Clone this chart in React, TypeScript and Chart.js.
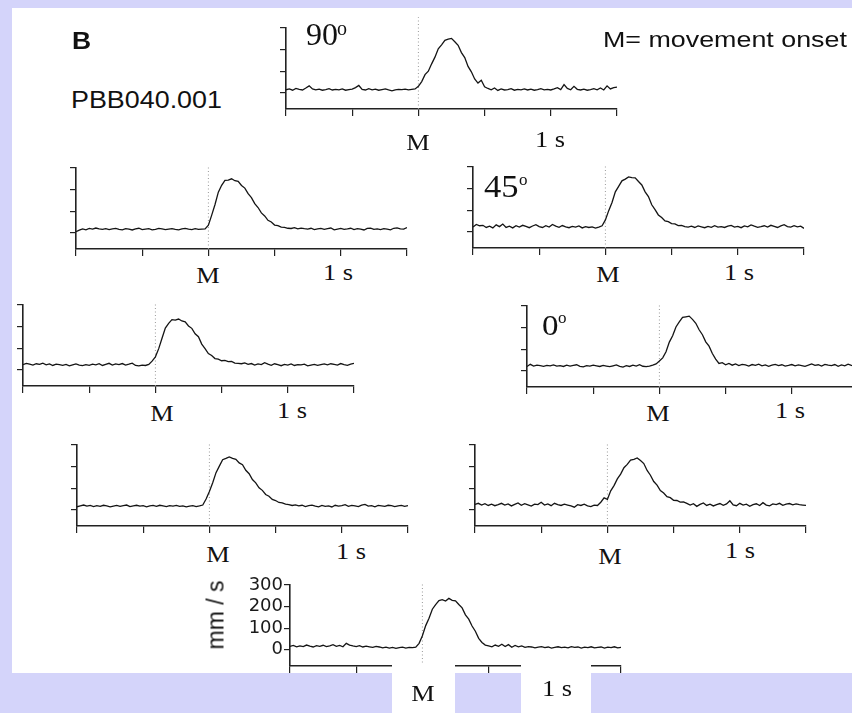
import React, { useEffect, useRef } from "react";
import { Chart, registerables } from "chart.js";

Chart.register(...registerables);

// ---------- data ----------
const T_START = -1.0; // s, relative to movement onset M
const T_STEP = 0.025; // s between samples
const X_MIN = -1.0;
const X_MAX = 1.5;
const X_TICKS = [-1, -0.5, 0, 0.5, 1, 1.5];
const Y_MIN = -75;
const Y_MAX = 300;
const Y_TICKS = [0, 100, 200, 300];
const Y_TICK_LABELS = ["0", "100", "200", "300"];
const Y_TITLE = "mm / s";

// hand velocity (mm/s) for each target direction
const V90 = [
  14, 18, 12, 20, 16, 13, 22, 32, 18, 14,
  17, 12, 15, 19, 13, 16, 14, 18, 12, 15,
  17, 24, 34, 16, 13, 19, 14, 17, 12, 15,
  18, 13, 9, 14, 16, 15, 17, 14, 16, 18,
  30, 52, 84, 100, 134, 165, 204, 222, 243, 248,
  252, 236, 220, 186, 163, 122, 97, 64, 45, 58,
  28, 20, 14, 22, 11, 18, 13, 15, 19, 12,
  16, 14, 18, 13, 17, 12, 15, 19, 14, 16,
  13, 18, 24, 15, 38, 20, 14, 30, 16, 13,
  17, 12, 15, 19, 14, 22, 13, 32, 18, 24,
  26,
];
const V135 = [
  5, 12, 18, 14, 20, 17, 22, 18, 16, 19,
  15, 18, 20, 16, 14, 19, 17, 13, 18, 21,
  15, 17, 19, 14, 16, 20, 18, 15, 17, 19,
  16, 14, 18, 20, 17, 15, 19, 16, 17, 18,
  35, 82, 131, 188, 220, 243, 244, 250, 241, 238,
  219, 207, 181, 163, 135, 117, 92, 78, 58, 50,
  36, 33, 26, 25, 21, 20, 24, 18, 22, 19,
  17, 21, 15, 18, 20, 16, 19, 22, 14, 17,
  20, 16, 18, 21, 15, 19, 17, 13, 20, 22,
  16, 18, 15, 19, 17, 14, 21, 23, 18, 17,
  24,
];
const V45 = [
  22, 34, 28, 30, 20, 26, 18, 32, 24, 36,
  20, 26, 18, 28, 22, 30, 25, 19, 27, 33,
  24, 20, 28, 22, 34, 26, 21, 29, 23, 19,
  25, 22, 27, 18, 24, 20, 23, 17, 22, 28,
  55, 98, 136, 185, 210, 236, 244, 254, 251, 250,
  233, 217, 185, 163, 125, 103, 78, 66, 50, 47,
  38, 37, 29, 30, 24, 22, 26, 20, 27, 23,
  19, 25, 21, 28, 22, 24, 20, 26, 30, 22,
  25, 19, 27, 23, 32, 26, 21, 24, 28, 22,
  30, 25, 20, 27, 33, 24, 22, 28, 23, 26,
  16,
];
const V180 = [
  24, 30, 26, 22, 28, 25, 31, 23, 27, 20,
  26, 24, 21, 25, 18, 23, 27, 22, 19, 24,
  21, 26, 23, 28, 20, 25, 30, 22, 27, 24,
  29, 22, 26, 31, 20, 18, 22, 20, 25, 40,
  60, 98, 146, 193, 215, 232, 230, 235, 226, 222,
  203, 192, 167, 153, 119, 98, 75, 66, 52, 49,
  42, 44, 38, 39, 31, 30, 28, 32, 25, 29,
  22, 27, 24, 33, 26, 21, 28, 24, 19, 25,
  22, 27, 20, 24, 23, 26, 18, 22, 25, 21,
  24, 27, 23, 28, 25, 22, 29, 24, 21, 26,
  30,
];
const V0 = [
  20, 30, 22, 26, 24, 21, 25, 23, 27, 22,
  24, 20, 26, 22, 25, 28, 21, 18, 24, 22,
  26, 23, 20, 25, 22, 19, 23, 27, 21, 17,
  24, 20, 26, 22, 28, 21, 19, 22, 26, 32,
  45, 60, 88, 133, 162, 203, 226, 247, 250, 253,
  238, 220, 190, 167, 134, 114, 80, 54, 34, 38,
  28, 34, 26, 32, 24, 30, 27, 22, 29, 25,
  31, 23, 27, 21, 26, 30, 24, 28, 22, 25,
  29, 23, 27, 24, 21, 26, 32, 25, 28, 22,
  30, 26, 24, 29, 21, 27, 23, 31, 25, 22,
  28,
];
const V225 = [
  14, 18, 22, 17, 20, 15, 19, 16, 21, 18,
  14, 17, 20, 16, 19, 22, 15, 18, 21, 17,
  19, 14, 18, 20, 16, 21, 18, 15, 19, 17,
  20, 16, 18, 14, 17, 19, 15, 18, 22, 50,
  85, 125, 172, 202, 232, 238, 245, 238, 234, 217,
  209, 183, 167, 140, 125, 102, 90, 71, 63, 48,
  43, 34, 32, 26, 24, 20, 23, 18, 21, 15,
  19, 22, 17, 14, 20, 16, 18, 13, 21, 17,
  19, 24, 16, 20, 18, 15, 22, 25, 17, 19,
  14, 20, 18, 16, 21, 19, 15, 18, 20, 16,
  19,
];
const V315 = [
  25, 30, 22, 28, 20, 26, 19, 24, 30, 22,
  27, 18, 25, 32, 21, 28, 23, 17, 26, 24,
  35, 22, 27, 19, 30, 24, 20, 26, 22, 18,
  12, 24, 20, 26, 18, 15, 22, 20, 35, 55,
  48, 88, 112, 143, 165, 195, 210, 230, 234, 240,
  228, 214, 182, 160, 131, 114, 89, 78, 61, 56,
  44, 43, 36, 37, 30, 22, 28, 16, 25, 32,
  20, 26, 18, 24, 29, 21, 27, 42, 23, 19,
  30, 22, 26, 16, 24, 28, 20, 33, 22, 18,
  27, 24, 30, 21, 26, 29, 23, 27, 24, 22,
  20,
];
const V270 = [
  16, 20, 14, 18, 15, 22, 17, 13, 19, 16,
  21, 15, 18, 24, 16, 20, 14, 30, 22, 18,
  15, 19, 13, 17, 14, 11, 16, 13, 9, 12,
  8, 11, 7, 10, 12, 8, 11, 10, 12, 30,
  65, 112, 146, 188, 209, 228, 232, 226, 238, 229,
  227, 210, 194, 162, 142, 110, 86, 53, 34, 22,
  18, 14, 22, 16, 26, 15, 24, 12, 20, 14,
  18, 11, 15, 13, 9, 12, 15, 10, 13, 8,
  11, 14, 10, 12, 9, 15, 11, 13, 8, 12,
  10, 14, 9, 11, 13, 8, 12, 10, 14, 9,
  11,
];

// ---------- layout / style ----------
const AREA_W = 331;
const AREA_H = 81;
const X_TICK_LEN = 7;
const Y_TICK_LEN = 6;
const LAVENDER = "rgb(212,212,250)";
const INK = "#141414";
const AXIS = "#222";
const SERIF = "'Liberation Serif', 'Times New Roman', serif";
const SANS = "'Liberation Sans', Arial, Helvetica, sans-serif";

type PanelProps = {
  values: number[];
  left: number;
  top: number;
  markTop: number;
  labels?: boolean;
};

function Panel({ values, left, top, markTop, labels }: PanelProps) {
  const ref = useRef<HTMLCanvasElement | null>(null);
  const yAxisW = labels ? 60 : Y_TICK_LEN;
  const padL = 2;
  const padT = labels ? 16 : 14;
  const padR = 4;
  const padB = labels ? 12 : 3;
  const cw = padL + yAxisW + AREA_W + padR;
  const ch = padT + AREA_H + X_TICK_LEN + padB;

  useEffect(() => {
    if (!ref.current) return;
    const trace = values.map((v, i) => ({ x: T_START + i * T_STEP, y: v }));
    const chart = new Chart(ref.current, {
      type: "line",
      data: {
        datasets: [
          {
            data: trace,
            borderColor: INK,
            borderWidth: 1.3,
            pointRadius: 0,
            tension: 0,
            fill: false,
          },
          {
            data: [
              { x: 0, y: Y_MIN },
              { x: 0, y: markTop },
            ],
            borderColor: "#9a9a9a",
            borderWidth: 1,
            borderDash: [1, 2.5],
            pointRadius: 0,
            fill: false,
            clip: false as any,
          },
        ],
      },
      options: {
        animation: false,
        responsive: false,
        maintainAspectRatio: false,
        devicePixelRatio: 1,
        events: [],
        layout: { padding: { left: padL, top: padT, right: padR, bottom: padB } },
        plugins: { legend: { display: false }, tooltip: { enabled: false }, title: { display: false } },
        scales: {
          x: {
            type: "linear",
            position: "bottom",
            min: X_MIN,
            max: X_MAX,
            afterBuildTicks: (s: any) => {
              s.ticks = X_TICKS.map((v) => ({ value: v }));
            },
            afterFit: (s: any) => {
              s.height = X_TICK_LEN;
            },
            ticks: { display: false },
            grid: {
              display: true,
              drawOnChartArea: false,
              drawTicks: true,
              tickLength: X_TICK_LEN,
              color: AXIS,
              lineWidth: 1.2,
            },
            border: { display: true, color: AXIS, width: 1.6 },
          },
          y: {
            type: "linear",
            position: "left",
            min: Y_MIN,
            max: Y_MAX,
            afterBuildTicks: (s: any) => {
              s.ticks = Y_TICKS.map((v) => ({ value: v }));
            },
            afterFit: (s: any) => {
              s.width = yAxisW;
            },
            ticks: {
              display: !!labels,
              padding: 1,
              color: "#1a1a1a",
              font: { family: "'DejaVu Sans', Verdana, sans-serif", size: 18 },
              callback: (v: any) => {
                const k = Y_TICKS.indexOf(Number(v));
                return k >= 0 ? Y_TICK_LABELS[k] : "";
              },
            },
            grid: {
              display: true,
              drawOnChartArea: false,
              drawTicks: true,
              tickLength: Y_TICK_LEN,
              color: AXIS,
              lineWidth: 1.2,
            },
            border: { display: true, color: AXIS, width: 1.6 },
          },
        },
      },
    } as any);
    return () => chart.destroy();
  }, []);

  return (
    <canvas
      ref={ref}
      width={cw}
      height={ch}
      style={{
        position: "absolute",
        left: left - yAxisW - padL,
        top: top - padT,
        width: cw,
        height: ch,
      }}
    />
  );
}

const PANELS: PanelProps[] = [
  { values: V90, left: 286, top: 28, markTop: 350 },
  { values: V135, left: 76, top: 168, markTop: 305 },
  { values: V45, left: 473, top: 167, markTop: 305 },
  { values: V180, left: 23, top: 305, markTop: 305 },
  { values: V0, left: 527, top: 306, markTop: 305 },
  { values: V225, left: 77, top: 445, markTop: 305 },
  { values: V315, left: 475, top: 445, markTop: 305 },
  { values: V270, left: 290, top: 585, markTop: 305, labels: true },
];

// "M" and "1 s" labels: center x, baseline y
const TIME_LABELS: [string, number, number][] = [
  ["M", 418, 150], ["1 s", 550, 147],
  ["M", 208, 283], ["1 s", 338, 280],
  ["M", 608, 282], ["1 s", 739, 280],
  ["M", 162, 421], ["1 s", 292, 418],
  ["M", 658, 421], ["1 s", 790, 418],
  ["M", 218, 562], ["1 s", 351, 559],
  ["M", 610, 564], ["1 s", 740, 558],
  ["M", 423, 701], ["1 s", 557, 696],
];

function SerifCentered({ text, cx, base, size = 24 }: { text: string; cx: number; base: number; size?: number }) {
  return (
    <div
      style={{
        position: "absolute",
        left: cx,
        top: base - 0.8375 * size,
        fontFamily: SERIF,
        fontSize: size,
        lineHeight: 1,
        whiteSpace: "nowrap",
        color: "#111",
        transform: "translateX(-50%) scaleX(1.1)",
      }}
    >
      {text}
    </div>
  );
}

function TextAt({
  text, x, base, size, family, weight = 400, sx = 1, asc,
}: {
  text: string; x: number; base: number; size: number; family: string; weight?: number; sx?: number; asc: number;
}) {
  return (
    <div
      style={{
        position: "absolute",
        left: x,
        top: base - asc * size,
        fontFamily: family,
        fontSize: size,
        fontWeight: weight,
        lineHeight: 1,
        whiteSpace: "nowrap",
        color: "#111",
        transform: `scaleX(${sx})`,
        transformOrigin: "0 0",
      }}
    >
      {text}
    </div>
  );
}

export default function App() {
  return (
    <div
      style={{
        position: "absolute",
        left: 0,
        top: 0,
        width: 852,
        height: 713,
        background: LAVENDER,
        overflow: "hidden",
      }}
    >
      <div style={{ position: "absolute", left: 12, top: 8, width: 840, height: 665, background: "#fff" }} />

      {PANELS.map((p, i) => (
        <Panel key={i} {...p} />
      ))}

      {/* white boxes under the bottom labels */}
      <div style={{ position: "absolute", left: 392, top: 663, width: 63, height: 50, background: "#fff" }} />
      <div style={{ position: "absolute", left: 521, top: 663, width: 70, height: 50, background: "#fff" }} />

      {TIME_LABELS.map(([t, cx, b], i) => (
        <SerifCentered key={i} text={t} cx={cx} base={b} />
      ))}

      {/* direction labels */}
      <TextAt text="90" x={306} base={45} size={32} family={SERIF} asc={0.8375} />
      <TextAt text="o" x={337} base={35} size={20} family={SERIF} asc={0.8375} />
      <TextAt text="45" x={484} base={197} size={32} family={SERIF} sx={1.08} asc={0.8375} />
      <TextAt text="o" x={519} base={185} size={17} family={SERIF} asc={0.8375} />
      <TextAt text="0" x={542} base={335} size={30} family={SERIF} sx={1.1} asc={0.8375} />
      <TextAt text="o" x={558} base={323} size={17} family={SERIF} asc={0.8375} />

      {/* panel annotations */}
      <TextAt text="B" x={71.5} base={49} size={23} family={SANS} weight={700} sx={1.15} asc={0.8465} />
      <TextAt text="PBB040.001" x={71} base={108} size={24} family={SANS} sx={1.12} asc={0.8465} />
      <TextAt text="M= movement onset" x={603} base={48} size={22} family={SANS} sx={1.22} asc={0.8465} />

      {/* y-axis title of the bottom panel */}
      <div
        style={{
          position: "absolute",
          left: 215.5,
          top: 615,
          fontFamily: SANS,
          fontSize: 23,
          lineHeight: 1,
          whiteSpace: "nowrap",
          color: "#111",
          transform: "translate(-50%, -50%) rotate(-90deg)",
        }}
      >
        {Y_TITLE}
      </div>
    </div>
  );
}
